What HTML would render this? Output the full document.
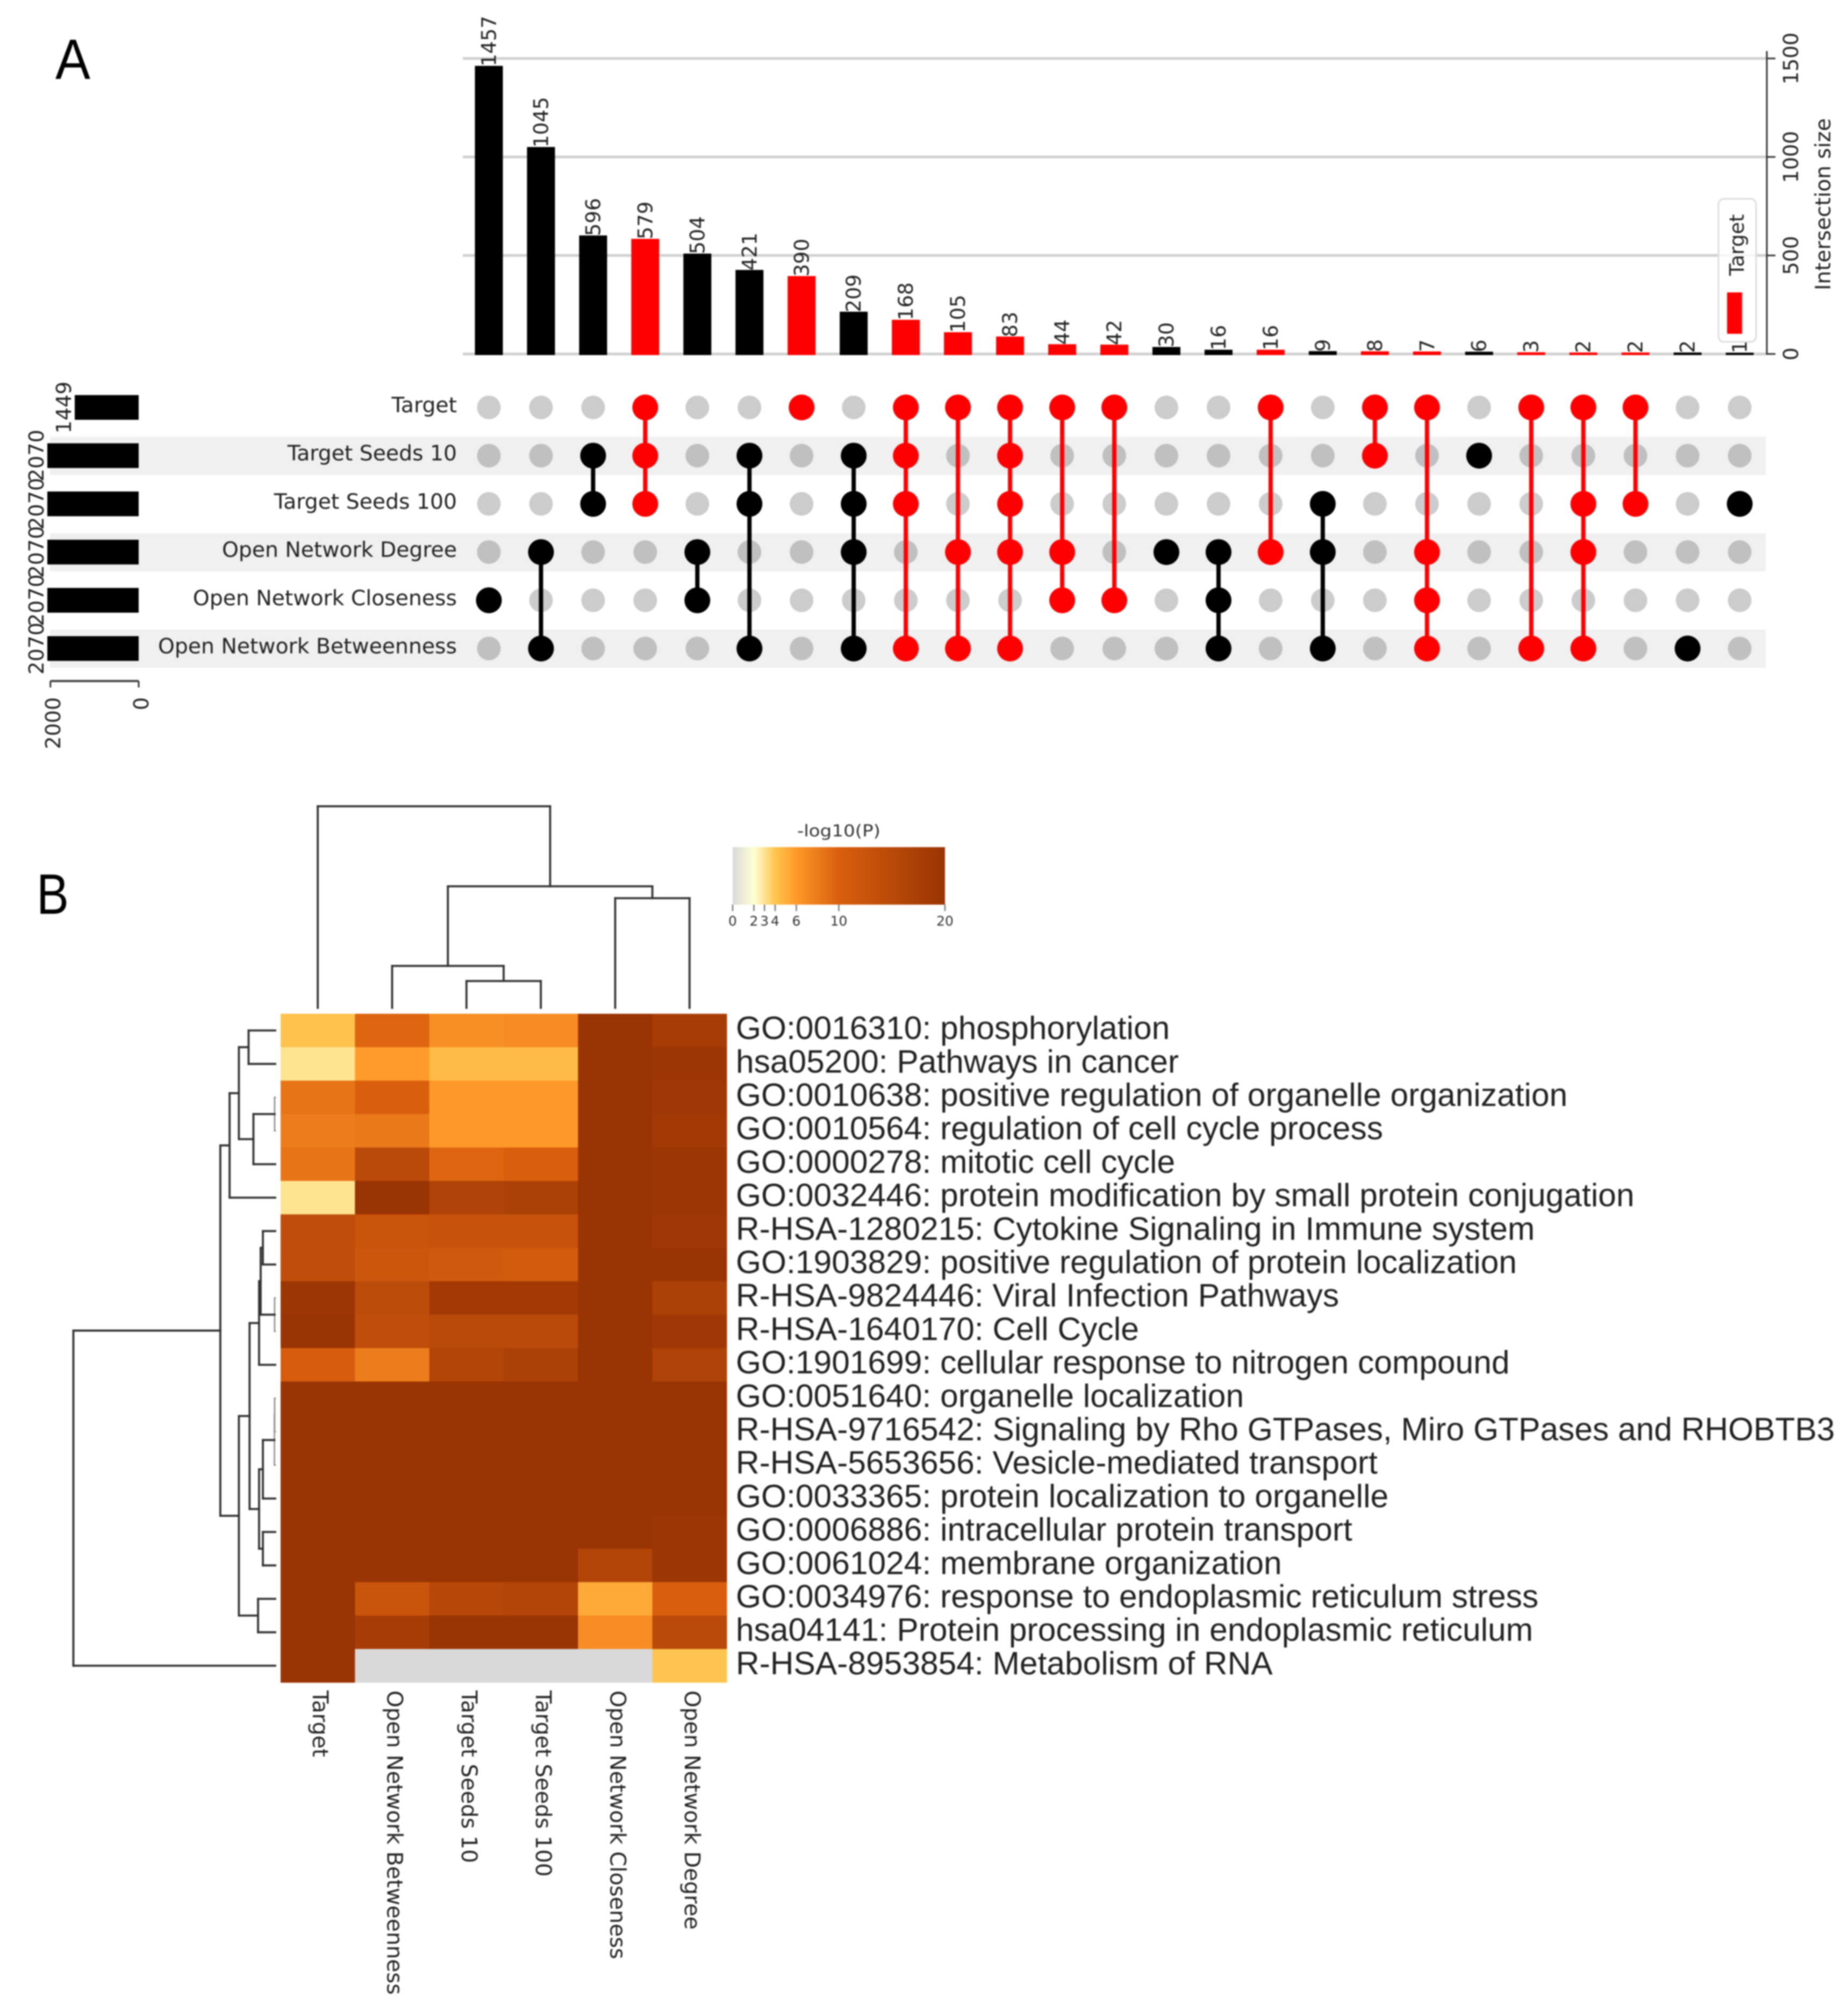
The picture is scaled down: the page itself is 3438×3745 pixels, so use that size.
<!DOCTYPE html>
<html lang="en">
<head>
<meta charset="utf-8">
<title>Upset plot and enrichment heatmap</title>
<style>
  html,body{margin:0;padding:0;background:#fff;}
  svg{display:block;filter:blur(1.3px);}
  text{font-family:"DejaVu Sans","Liberation Sans",sans-serif;fill:#222;}
</style>
</head>
<body>
<svg id="fig" xmlns="http://www.w3.org/2000/svg" width="3438" height="3745" viewBox="0 0 3438 3745">
  <rect x="0" y="0" width="3438" height="3745" fill="#fff"/>
  <text x="103" y="147" font-size="106" textLength="65" lengthAdjust="spacingAndGlyphs" style="font-family:'Liberation Sans',sans-serif;fill:#000">A</text>
  <text x="68" y="1700" font-size="106" textLength="60" lengthAdjust="spacingAndGlyphs" style="font-family:'Liberation Sans',sans-serif;fill:#000">B</text>
</svg>
<script>
// ---------- Upset data ----------
const setNames = ["Target", "Target Seeds 10", "Target Seeds 100", "Open Network Degree", "Open Network Closeness", "Open Network Betweenness"];
const setSizes = [1449, 2070, 2070, 2070, 2070, 2070];
const setAxisTicks = [0, 2000];
const intersectionSizes = [1457, 1045, 596, 579, 504, 421, 390, 209, 168, 105, 83, 44, 42, 30, 16, 16, 9, 8, 7, 6, 3, 2, 2, 2, 1];
const intersectionHighlighted = [0, 0, 0, 1, 0, 0, 1, 0, 1, 1, 1, 1, 1, 0, 0, 1, 0, 1, 1, 0, 1, 1, 1, 0, 0];
const intersectionMembers = [[4], [3, 5], [1, 2], [0, 1, 2], [3, 4], [1, 2, 5], [0], [1, 2, 3, 5], [0, 1, 2, 5], [0, 3, 5], [0, 1, 2, 3, 5], [0, 3, 4], [0, 4], [3], [3, 4, 5], [0, 3], [2, 3, 5], [0, 1], [0, 3, 4, 5], [1], [0, 5], [0, 2, 3, 5], [0, 2], [5], [2]];
const intersectionAxisTicks = [0, 500, 1000, 1500];
const legendLabel = "Target";

// ---------- Heatmap data ----------
const heatColLabels = ["Target", "Open Network Betweenness", "Target Seeds 10", "Target Seeds 100", "Open Network Closeness", "Open Network Degree"];
const heatRowLabels = [
  "GO:0016310: phosphorylation",
  "hsa05200: Pathways in cancer",
  "GO:0010638: positive regulation of organelle organization",
  "GO:0010564: regulation of cell cycle process",
  "GO:0000278: mitotic cell cycle",
  "GO:0032446: protein modification by small protein conjugation",
  "R-HSA-1280215: Cytokine Signaling in Immune system",
  "GO:1903829: positive regulation of protein localization",
  "R-HSA-9824446: Viral Infection Pathways",
  "R-HSA-1640170: Cell Cycle",
  "GO:1901699: cellular response to nitrogen compound",
  "GO:0051640: organelle localization",
  "R-HSA-9716542: Signaling by Rho GTPases, Miro GTPases and RHOBTB3",
  "R-HSA-5653656: Vesicle-mediated transport",
  "GO:0033365: protein localization to organelle",
  "GO:0006886: intracellular protein transport",
  "GO:0061024: membrane organization",
  "GO:0034976: response to endoplasmic reticulum stress",
  "hsa04141: Protein processing in endoplasmic reticulum",
  "R-HSA-8953854: Metabolism of RNA"
];
const heatValues = [
  [4.1, 9.5, 6.7, 7, 20, 18],
  [3, 5.9, 4.4, 4.4, 20, 19.5],
  [8.5, 10, 6, 6, 20, 19],
  [8, 8.2, 6, 6, 20, 18.5],
  [8.5, 15, 9.5, 10, 20, 19.5],
  [3, 20, 16.5, 17, 20, 19.5],
  [14, 12.5, 13, 13, 20, 19],
  [14, 12, 11.5, 11, 20, 20],
  [19.5, 14.5, 18.5, 18.5, 20, 17],
  [20, 14, 15, 15, 20, 19],
  [10.5, 8, 16, 17, 20, 16.5],
  [20, 20, 20, 20, 20, 20],
  [20, 20, 20, 20, 20, 20],
  [20, 20, 20, 20, 20, 20],
  [20, 20, 20, 20, 20, 20],
  [20, 20, 20, 20, 20, 19.5],
  [20, 20, 20, 20, 16, 19.5],
  [20, 12.5, 15.5, 16, 5.2, 10],
  [20, 18, 20, 20, 6.8, 15],
  [20, 0, 0, 0, 0, 4]
];
const colorbarTicks = [0, 2, 3, 4, 6, 10, 20];
const colorbarTitle = "-log10(P)";
// Linkage trees: [childA, childB, distance]; a number is a leaf index.
const colTree = [0, [[1, [2, 3, 13.3], 20.8], [4, 5, 54.4], 60.3], 100];
const rowTree = [
  [
    [[[0, 1, 13.2], [[2, 3, 0.3], 4, 10.8], 18], 5, 22.6],
    [
      [[[[6, 7, 6.1], [8, 9, 0.3], 7.2], 10, 8], [[[[11, 12, 0.3], 13, 0.4], 14, 6.1], [15, 16, 6.1], 8], 12.7],
      [17, 18, 8.5],
      18
    ],
    27.2
  ],
  19,
  100
];

// ---------- Colour stops ----------
const cmapStops = [[0, "#d9d9d9"], [2, "#ffffd4"], [3, "#fee391"], [4, "#fec44f"], [6, "#fe9929"], [10, "#d95f0e"], [20, "#993404"]];

// ---------- Helpers and scales ----------
const svg = document.getElementById('fig');
const NS = 'http://www.w3.org/2000/svg';
function add(tag, attrs, text) {
  const el = document.createElementNS(NS, tag);
  for (const k in attrs) el.setAttribute(k, attrs[k]);
  if (text !== undefined) el.textContent = text;
  svg.appendChild(el);
  return el;
}
function rotated(x, y, angle, text, size, anchor) {
  return add('text', { transform: 'translate(' + x + ',' + y + ') rotate(' + angle + ')', 'font-size': size, 'text-anchor': anchor }, text);
}
const barY = v => 658.5 - v * 0.3665;
const colX = i => 909.5 + i * 96.96;
const rowY = i => 758 + i * 89.7;
const setX = v => 258 - v * 0.0821;
const cellX = i => 522 + i * 138.33;
const cellY = i => 1886 + i * 62.2;
const cellW = 138.33, cellH = 62.2;
const cbarX = v => 1363 + v * 19.75;
const colDistY = d => 1875 - d * 3.75;
const rowDistX = d => 512 - d * 3.755;
function hex(c) { return [1, 3, 5].map(i => parseInt(c.substr(i, 2), 16)); }
function heatColor(v) {
  for (let i = 1; i < cmapStops.length; i++) {
    if (v <= cmapStops[i][0]) {
      const a = cmapStops[i - 1], b = cmapStops[i], t = (v - a[0]) / (b[0] - a[0]);
      const ca = hex(a[1]), cb = hex(b[1]);
      return 'rgb(' + ca.map((x, j) => Math.round(x + (cb[j] - x) * t)).join(',') + ')';
    }
  }
  return cmapStops[cmapStops.length - 1][1];
}

// ---------- Stripes ----------
setNames.forEach((n, i) => {
  if (i % 2 === 1) {
    const s = add('rect', { x: 93, y: rowY(i) - 35, width: 3192, height: 71, fill: '#f0f0f0' });
    
    
  }
});

// ---------- Intersection axis ----------
intersectionAxisTicks.forEach(t => {
  const g = add('line', { x1: 861, x2: 3287, y1: barY(t), y2: barY(t), stroke: '#d0d0d0', 'stroke-width': 5 });
  
  
  const tk = add('line', { x1: 3287, x2: 3303, y1: barY(t), y2: barY(t), stroke: '#333', 'stroke-width': 3 });
  
  
  const lb = rotated(3345, barY(t), -90, String(t), 38, 'middle');
  
  
});
const spine = add('line', { x1: 3287, x2: 3287, y1: 95, y2: 660, stroke: '#333', 'stroke-width': 3 });


const yTitle = rotated(3405, 380, -90, 'Intersection size', 39, 'middle');



// ---------- Intersection bars ----------
intersectionSizes.forEach((v, i) => {
  const color = intersectionHighlighted[i] ? '#ff0000' : '#000000';
  const top = barY(v) - 2;
  const b = add('rect', { x: colX(i) - 26, y: top, width: 52, height: 660.5 - top, fill: color });
  
  
  const t = rotated(colX(i) + 13, top + 1, -90, String(v), 37, 'start');
  
  
});

// ---------- Legend ----------
const legendBox = add('rect', { x: 3197, y: 370, width: 70, height: 266, rx: 10, fill: '#fff', 'fill-opacity': 0.8, stroke: '#dddddd', 'stroke-width': 3 });


const legendText = rotated(3244, 513, -90, legendLabel, 37, 'start');


const legendPatch = add('rect', { x: 3213, y: 544, width: 28, height: 77, fill: '#ff0000' });



// ---------- Matrix ----------
intersectionMembers.forEach((members, i) => {
  const color = intersectionHighlighted[i] ? '#ff0000' : '#000000';
  setNames.forEach((n, r) => {
    if (members.indexOf(r) < 0) {
      const d = add('circle', { cx: colX(i), cy: rowY(r), r: 22, fill: '#000', 'fill-opacity': 0.2 });
      
      
    }
  });
  if (members.length > 1) {
    const l = add('line', { x1: colX(i), x2: colX(i), y1: rowY(Math.min.apply(null, members)), y2: rowY(Math.max.apply(null, members)), stroke: color, 'stroke-width': 8 });
    
    
  }
  members.forEach(r => {
    const d = add('circle', { cx: colX(i), cy: rowY(r), r: 24, fill: color });
    
    
  });
});

// ---------- Set labels and size bars ----------
setNames.forEach((n, r) => {
  const t = add('text', { x: 850, y: rowY(r) + 9, 'font-size': 39.3, 'text-anchor': 'end' }, n);
  
  
  const left = setX(setSizes[r]);
  const b = add('rect', { x: left, y: rowY(r) - 23, width: setX(0) - left, height: 46, fill: '#000' });
  
  
  const v = rotated(left - 7, rowY(r), -90, String(setSizes[r]), 38, 'middle');
  
  
});
const setAxis = add('line', { x1: setX(setAxisTicks[1]), x2: setX(setAxisTicks[0]), y1: 1267, y2: 1267, stroke: '#444', 'stroke-width': 4 });


setAxisTicks.forEach(t => {
  const tk = add('line', { x1: setX(t), x2: setX(t), y1: 1267, y2: 1279, stroke: '#333', 'stroke-width': 3 });
  
  
  const lb = rotated(setX(t) + 18, 1297, -90, String(t), 38, 'end');
  
  
});

// ---------- Heatmap ----------
heatValues.forEach((row, r) => {
  row.forEach((v, c) => {
    const cell = add('rect', { x: cellX(c), y: cellY(r), width: cellW + 0.5, height: cellH + 0.5, fill: heatColor(v) });
    
    
  });
});
heatRowLabels.forEach((n, r) => {
  const t = add('text', { x: 1369, y: cellY(r) + cellH / 2 + 16, 'font-size': 60.5, style: 'font-family:"Liberation Sans",sans-serif' }, n);
  
  
});
heatColLabels.forEach((n, c) => {
  const t = rotated(cellX(c) + cellW / 2 - 9, 3145, 90, n, 40, 'start');
  
  
});

// ---------- Dendrograms ----------
function dendroLine(x1, y1, x2, y2, distance) {
  const thin = distance < 1;
  const l = add('line', { x1: x1, y1: y1, x2: x2, y2: y2, stroke: thin ? '#888' : '#333', 'stroke-width': thin ? 2.5 : 3.8, 'stroke-linecap': 'square' });
  
  
}
function drawCol(node) {
  if (typeof node === 'number') return { p: cellX(node) + cellW / 2, h: 0 };
  const a = drawCol(node[0]), b = drawCol(node[1]), d = node[2];
  dendroLine(a.p, colDistY(a.h), a.p, colDistY(d), d);
  dendroLine(b.p, colDistY(b.h), b.p, colDistY(d), d);
  dendroLine(a.p, colDistY(d), b.p, colDistY(d), d);
  return { p: (a.p + b.p) / 2, h: d };
}
function drawRow(node) {
  if (typeof node === 'number') return { p: cellY(node) + cellH / 2, h: 0 };
  const a = drawRow(node[0]), b = drawRow(node[1]), d = node[2];
  dendroLine(rowDistX(a.h), a.p, rowDistX(d), a.p, d);
  dendroLine(rowDistX(b.h), b.p, rowDistX(d), b.p, d);
  dendroLine(rowDistX(d), a.p, rowDistX(d), b.p, d);
  return { p: (a.p + b.p) / 2, h: d };
}
drawCol(colTree);
drawRow(rowTree);

// ---------- Colorbar ----------
const defs = add('defs', {});
const grad = document.createElementNS(NS, 'linearGradient');
grad.setAttribute('id', 'cbarGrad');
cmapStops.forEach(s => {
  const st = document.createElementNS(NS, 'stop');
  st.setAttribute('offset', (s[0] / 20 * 100) + '%');
  st.setAttribute('stop-color', s[1]);
  grad.appendChild(st);
});
defs.appendChild(grad);
const cbar = add('rect', { x: cbarX(0), y: 1576, width: cbarX(20) - cbarX(0), height: 107, fill: 'url(#cbarGrad)' });


const cbarTitleEl = add('text', { x: 1483, y: 1556, 'font-size': 30, textLength: 155, lengthAdjust: 'spacingAndGlyphs', style: 'fill:#333' }, colorbarTitle);


colorbarTicks.forEach(t => {
  const tk = add('line', { x1: cbarX(t), x2: cbarX(t), y1: 1683, y2: 1695, stroke: '#777', 'stroke-width': 2.5 });
  
  
  const lb = add('text', { x: cbarX(t), y: 1722, 'font-size': 25, 'text-anchor': 'middle', style: 'fill:#333' }, String(t));
  
  
});
</script>
</body>
</html>
